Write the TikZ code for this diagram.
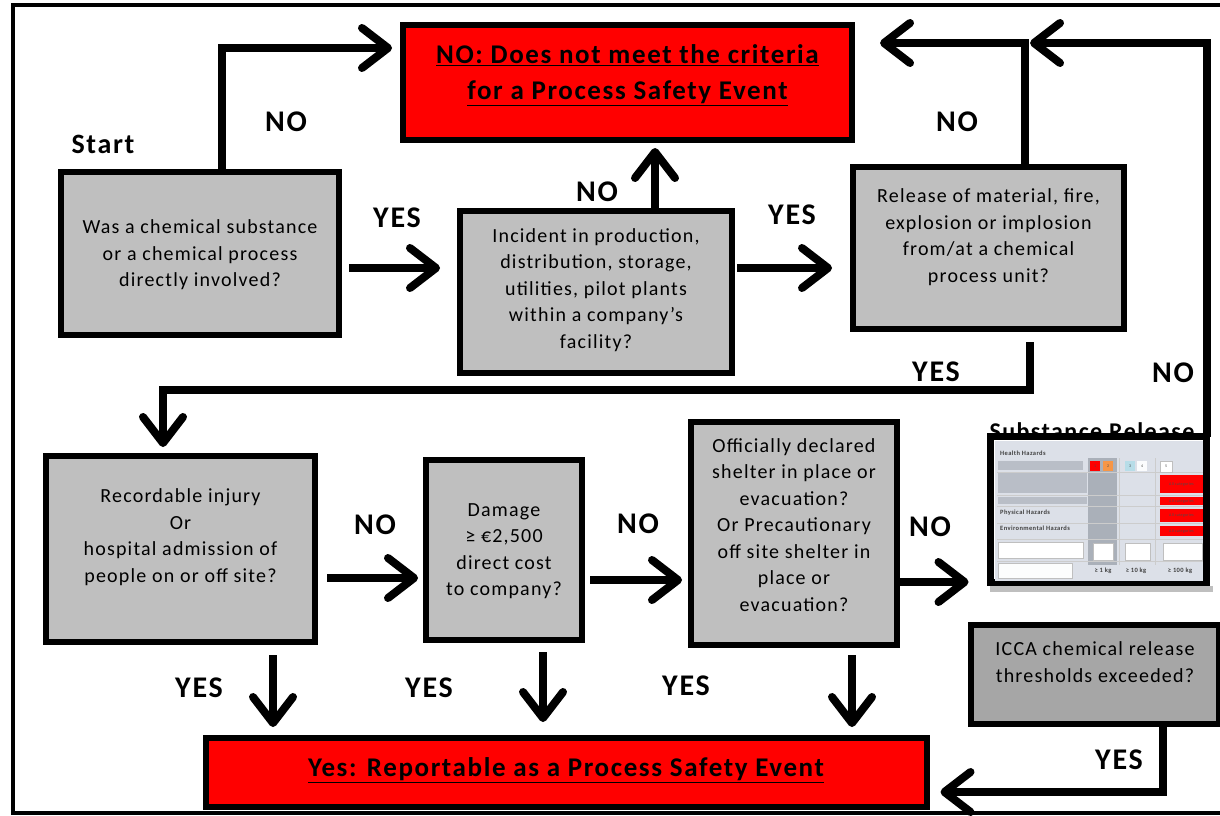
\documentclass[tikz,border=0pt]{standalone}
\usepackage{fontspec}
\setmainfont{Carlito}[LetterSpace=6]
\usetikzlibrary{arrows.meta,calc}
\definecolor{boxgrey}{HTML}{BFBFBF}
\definecolor{iccagrey}{HTML}{A6A6A6}
\definecolor{panel}{HTML}{DCE0E8}
\definecolor{barg}{HTML}{B9BEC7}
\definecolor{colg}{HTML}{AAB0B9}
\definecolor{orng}{HTML}{F79646}
\definecolor{lblue}{HTML}{B7DDE8}
\tikzset{
  qbox/.style={draw=black, line width=6pt, fill=boxgrey, inner sep=0pt, outer sep=0pt},
  rbox/.style={draw=black, line width=6pt, fill=red, inner sep=0pt, outer sep=0pt},
  qtext/.style={align=center, inner sep=0pt, font=\fontsize{20}{26.5}\selectfont},
  rtext/.style={align=center, inner sep=0pt, font=\fontsize{27}{36}\bfseries\selectfont},
  lab/.style={inner sep=0pt, font=\fontsize{30}{30}\bfseries\selectfont},
  conn/.style={line width=8pt, -{Straight Barb[length=26pt,width=40pt,round]}},
  tiny/.style={inner sep=0pt, anchor=west, text=black!75, font=\fontsize{6.5}{7}\bfseries\selectfont},
  tinyc/.style={inner sep=0pt, text=black!70, font=\fontsize{4}{4}\selectfont},
  cell/.style={draw=black!25, line width=0.4pt},
}
\begin{document}
\begin{tikzpicture}[x=1pt,y=-1pt]
\useasboundingbox (0,0) rectangle (1220,816);
\clip (0,0) rectangle (1220,816);
\fill[white] (0,0) rectangle (1220,816);
% outer frame
\draw[line width=4pt] (13,5) rectangle (1240,813);

% ---- boxes ----
\path
 node[rbox, minimum width=449pt, minimum height=115pt] (nobox) at (627.5,82.5) {}
 node[qbox, minimum width=278pt, minimum height=163pt] (b1) at (200,253.5) {}
 node[qbox, minimum width=272pt, minimum height=162pt] (b2) at (596,292) {}
 node[qbox, minimum width=271pt, minimum height=162pt] (b3) at (988.5,248) {}
 node[qbox, minimum width=269pt, minimum height=186pt] (b4) at (180.5,549) {}
 node[qbox, minimum width=156pt, minimum height=180pt] (b5) at (504,550) {}
 node[qbox, minimum width=206pt, minimum height=223pt] (b6) at (794,533.5) {}
 node[qbox, fill=iccagrey, minimum width=248pt, minimum height=99pt] (b7) at (1095,674.5) {}
 node[rbox, minimum width=721pt, minimum height=69pt] (yesbox) at (566.5,772.5) {};

% ---- substance release picture ----
\node[inner sep=0pt, anchor=base, font=\fontsize{24}{24}\bfseries\selectfont] (srtitle) at (1092,439) {Substance Release};
\fill[black!25] (990,586) rectangle (1213,592);
\node[draw=black, line width=7pt, fill=white, inner sep=0pt, outer sep=0pt,
      minimum width=216pt, minimum height=146pt] (img) at (1098.5,509.5) {};
\fill[panel] (995,441) rectangle (1203,581);
\fill[colg] (1088,458) rectangle (1117,565);
\fill[barg] (998,461) rectangle (1083,470);
\fill[barg] (998,473) rectangle (1087,493);
\fill[barg] (998,497) rectangle (1087,504);
\foreach \yy in {472,495,506,523,539,561} {\draw[black!20, line width=0.5pt] (997,\yy) -- (1203,\yy);}
\draw[black!20, line width=0.5pt] (1119,458) -- (1119,565) (1155,458) -- (1155,565);
\fill[red] (1090,461) rectangle (1100,471);
\fill[orng] (1103,461) rectangle (1113,471);
\fill[lblue] (1125,461) rectangle (1135,471);
\fill[white!90!panel] (1137,461) rectangle (1147,471);
\filldraw[fill=white, cell] (1160,461) rectangle (1172,472);
\fill[red] (1160,475) rectangle (1203,493);
\fill[red] (1160,497) rectangle (1203,505);
\fill[red] (1160,509) rectangle (1203,522);
\fill[red] (1160,526) rectangle (1203,536);
\filldraw[fill=white, cell] (998,542) rectangle (1083,558);
\filldraw[fill=white, cell] (1093,543) rectangle (1113,560);
\filldraw[fill=white, cell] (1125,543) rectangle (1150,560);
\filldraw[fill=white, cell] (1163,543) rectangle (1202,560);
\filldraw[fill=white!92!panel, cell] (998,563) rectangle (1072,578);
\node[tiny] (hh) at (1000,453) {Health Hazards};
\node[tiny] (ph) at (1000,513) {Physical Hazards};
\node[tiny] (eh) at (1000,528) {Environmental Hazards};
\node[tinyc] (c1) at (1095,466) {1};
\node[tinyc] (c2) at (1108,466) {2};
\node[tinyc] (c3) at (1130,466) {3};
\node[tinyc] (c4) at (1142,466) {4};
\node[tinyc] (c5) at (1166,466.5) {5};
\node[tinyc] (ac1) at (1181.5,484) {All categories};
\node[tinyc] (ac2) at (1181.5,501) {All categories};
\node[tinyc] (ac3) at (1181.5,515.5) {All categories};
\node[tinyc] (ac4) at (1181.5,531) {All categories};
\node[tiny, anchor=center] (kg1) at (1103,571) {≥ 1 kg};
\node[tiny, anchor=center] (kg2) at (1136,571) {≥ 10 kg};
\node[tiny, anchor=center] (kg3) at (1180,571) {≥ 100 kg};

% ---- connectors ----
\draw[conn] ($(b1.north)+(22,0)$) |- ($(nobox.west)+(-11,-34.5)$);
\draw[conn] ($(b1.east)+(10,14.5)$) -- ($(b2.west |- b1.east)+(-20,14.5)$);
\draw[conn] ($(b2.north)+(59,0)$) -- ($(nobox.south -| b2.north)+(59,8)$);
\draw[conn] ($(b2.east)+(5,-24)$) -- ($(b3.west |- b2.east)+(-21,-24)$);
\draw[conn] ($(b3.north)+(36.5,0)$) |- ($(nobox.east)+(28,-39.5)$);
\draw[conn] (img.north east) |- ($(b3.north)+(41.5,-124)$);
\draw[conn] ($(b3.south)+(41.5,13)$) -- ++(0,48) -| ($(b4.north)+(-17.5,-9)$);
\draw[conn] ($(b4.east)+(12,29)$) -- ($(b5.west |- b4.east)+(-8,29)$);
\draw[conn] ($(b5.east)+(8,30)$) -- ($(b6.west |- b5.east)+(-9,30)$);
\draw[conn] ($(b6.east)+(3,48.5)$) -- ($(img.west |- b6.east)+(-22,48.5)$);
\draw[conn] ($(b4.south)+(92.5,13)$) -- ($(yesbox.north -| b4.south)+(92.5,-11)$);
\draw[conn] ($(b5.south)+(39,12)$) -- ($(yesbox.north -| b5.south)+(39,-16)$);
\draw[conn] ($(b6.south)+(58,10)$) -- ($(yesbox.north -| b6.south)+(58,-11)$);
\draw[conn] ($(b7.south)+(68,3)$) |- ($(yesbox.east)+(13.5,19.5)$);

% redraw boxes on top of connector ends
\path
 node[rbox, minimum width=449pt, minimum height=115pt] at (nobox) {}
 node[qbox, minimum width=278pt, minimum height=163pt] at (b1) {}
 node[qbox, minimum width=272pt, minimum height=162pt] at (b2) {}
 node[qbox, minimum width=271pt, minimum height=162pt] at (b3) {}
 node[qbox, minimum width=269pt, minimum height=186pt] at (b4) {}
 node[qbox, minimum width=156pt, minimum height=180pt] at (b5) {}
 node[qbox, minimum width=206pt, minimum height=223pt] at (b6) {}
 node[qbox, fill=iccagrey, minimum width=248pt, minimum height=99pt] at (b7) {}
 node[rbox, minimum width=721pt, minimum height=69pt] at (yesbox) {};

% ---- texts ----
\node[rtext] (nt) at (627.5,75.5) {\underline{NO: Does not meet the criteria}\\\underline{for a Process Safety Event}};
\node[rtext] (yt) at (566,770) {\underline{Yes: Reportable as a Process Safety Event}};
\node[qtext] (t1) at (200,255) {Was a chemical substance\\or a chemical process\\directly involved?};
\node[qtext] (t2) at (596,290) {Incident in production,\\distribution, storage,\\utilities, pilot plants\\within a company's\\facility?};
\node[qtext] (t3) at (988.5,237) {Release of material, fire,\\explosion or implosion\\from/at a chemical\\process unit?};
\node[qtext] (t4) at (180.5,537) {Recordable injury\\Or\\hospital admission of\\people on or off site?};
\node[qtext] (t5) at (504,551) {Damage\\≥ €2,500\\direct cost\\to company?};
\node[qtext] (t6) at (794,525) {Officially declared\\shelter in place or\\evacuation?\\Or Precautionary\\off site shelter in\\place or\\evacuation?};
\node[qtext] (t7) at (1095,662) {ICCA chemical release\\thresholds exceeded?};

% ---- labels ----
\node[lab, font=\fontsize{28}{28}\bfseries\selectfont] (start) at (103,144) {Start};
\node[lab] (l1) at (286,122) {NO};
\node[lab] (l2) at (397,218) {YES};
\node[lab] (l3) at (597,192) {NO};
\node[lab] (l4) at (792,215) {YES};
\node[lab] (l5) at (957,122) {NO};
\node[lab] (l6) at (936,372) {YES};
\node[lab] (l7) at (1173,373) {NO};
\node[lab] (l8) at (375,525) {NO};
\node[lab] (l9) at (638,524) {NO};
\node[lab] (l10) at (930,527) {NO};
\node[lab] (l11) at (199,688) {YES};
\node[lab] (l12) at (429,688) {YES};
\node[lab] (l13) at (686,686) {YES};
\node[lab] (l14) at (1119,760) {YES};
\end{tikzpicture}
\end{document}
